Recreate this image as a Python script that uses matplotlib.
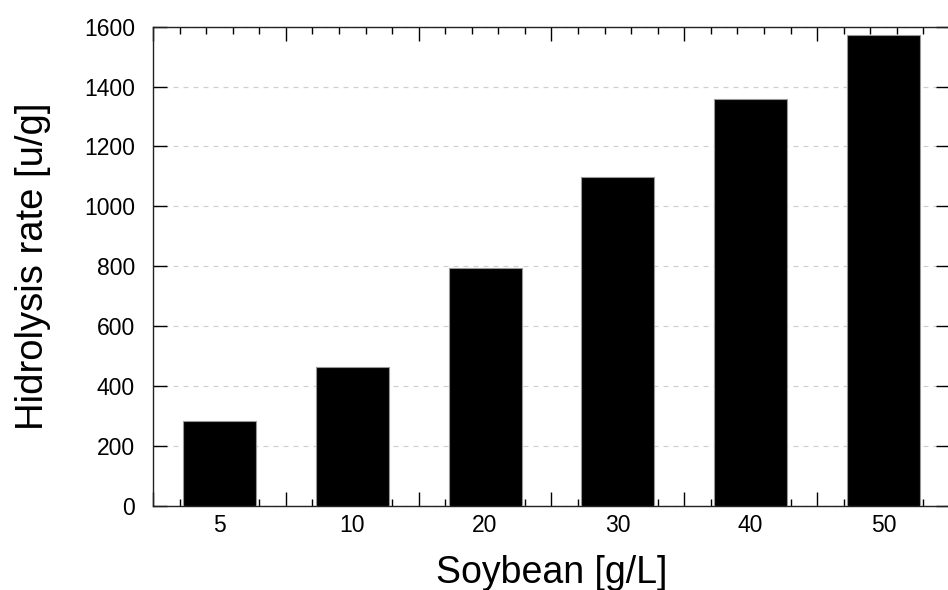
import matplotlib.pyplot as plt
from matplotlib.ticker import MultipleLocator

plt.rcParams['font.family'] = ['Liberation Sans', 'DejaVu Sans']

categories = ['5', '10', '20', '30', '40', '50']
rates = [285, 463, 794, 1098, 1357, 1572]

fig = plt.figure(figsize=(9.48, 5.9), dpi=100)
ax = fig.add_axes([0.1614, 0.1424, 0.8406, 0.8124])

pos = [i + 0.5 for i in range(len(categories))]
ax.bar(pos, rates, width=0.55, color='black', edgecolor='#999999', linewidth=0.8, zorder=3)

ax.set_xlim(0, 6)
ax.set_ylim(0, 1600)

# y grid, dashed light gray
ax.yaxis.set_major_locator(MultipleLocator(200))
ax.grid(axis='y', color='#d0d0d0', linestyle=(0, (4, 4)), linewidth=0.9, zorder=0)

# x: unlabeled bin ticks, labels at bar centres
ax.xaxis.set_major_locator(MultipleLocator(1))
ax.xaxis.set_minor_locator(MultipleLocator(0.2))
ax.tick_params(axis='x', which='major', direction='in', length=10, width=1,
               top=True, bottom=True, labelbottom=False)
ax.tick_params(axis='x', which='minor', direction='in', length=5, width=1,
               top=True, bottom=True)
ax.tick_params(axis='y', which='major', direction='in', length=10, width=1,
               left=True, right=True, labelsize=16.5, pad=13)

sec = ax.secondary_xaxis('bottom')
sec.set_xticks(pos, categories)
sec.tick_params(length=0, labelsize=16.5, pad=6)
sec.spines['bottom'].set_visible(False)

for s in ax.spines.values():
    s.set_linewidth(1)
    s.set_color('#222222')

ax.set_ylabel('Hidrolysis rate [u/g]', fontsize=27.5, labelpad=24)
sec.set_xlabel('Soybean [g/L]', fontsize=27, labelpad=13)

fig.savefig('out.png', dpi=100)
